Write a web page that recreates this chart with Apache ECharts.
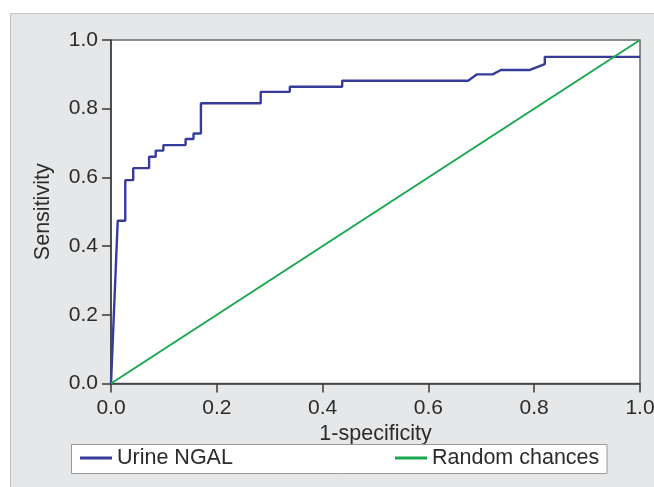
<!DOCTYPE html>
<html>
<head>
<meta charset="utf-8">
<script src="https://cdn.jsdelivr.net/npm/echarts@6/dist/echarts.min.js"></script>
<style>
html,body{margin:0;padding:0;background:#ffffff;}
#c{width:654px;height:487px;}
</style>
</head>
<body>
<div id="c"></div>
<script>
// ROC curve data
var ngalFpr = [0, 0.0127, 0.027, 0.027, 0.042, 0.042, 0.072, 0.072, 0.0845, 0.0845, 0.099, 0.099, 0.141, 0.141, 0.156, 0.156, 0.170, 0.170, 0.283, 0.283, 0.338, 0.338, 0.437, 0.437, 0.675, 0.692, 0.7215, 0.737, 0.792, 0.820, 0.820, 1.0];
var ngalTpr = [0, 0.474, 0.474, 0.592, 0.592, 0.627, 0.627, 0.660, 0.660, 0.678, 0.678, 0.694, 0.694, 0.712, 0.712, 0.728, 0.728, 0.816, 0.816, 0.849, 0.849, 0.864, 0.864, 0.8815, 0.8815, 0.900, 0.900, 0.9127, 0.9127, 0.930, 0.951, 0.951];
var randomFpr = [0, 1];
var randomTpr = [0, 1];
var seriesNames = ['Urine NGAL', 'Random chances'];
var xTitle = '1-specificity';
var yTitle = 'Sensitivity';

function pairs(xs, ys) { return xs.map(function (x, i) { return [x, ys[i]]; }); }

var FONT = '"Liberation Sans", Arial, Helvetica, sans-serif';
var FS = 21;
var TXT = '#2b2b2b';
var chart = echarts.init(document.getElementById('c'), null, {renderer: 'canvas'});
chart.setOption({
  animation: false,
  backgroundColor: '#ffffff',
  textStyle: {fontFamily: FONT},
  graphic: [
    {type: 'rect', z: -10, shape: {x: 10.5, y: 13.5, width: 700, height: 520},
     style: {fill: '#e6e7e9', stroke: '#c2c3c5', lineWidth: 1}},
    {type: 'rect', z: 1, shape: {x: 71.5, y: 444.5, width: 535.5, height: 29},
     style: {fill: '#ffffff', stroke: '#9a9a9a', lineWidth: 1}}
  ],
  grid: {left: 111, right: 14, top: 40, bottom: 103.5, show: true, containLabel: false,
         outerBoundsMode: 'none',
         backgroundColor: '#ffffff', borderColor: '#6a6a6a', borderWidth: 1.5},
  legend: [
    {data: [seriesNames[0]], left: 80, top: 447, padding: 0, itemWidth: 32, itemHeight: 3,
     icon: 'rect', textStyle: {fontSize: 21.5, color: TXT, fontFamily: FONT}},
    {data: [seriesNames[1]], left: 395, top: 447, padding: 0, itemWidth: 32, itemHeight: 3,
     icon: 'rect', textStyle: {fontSize: 21.5, color: TXT, fontFamily: FONT}}
  ],
  xAxis: {
    type: 'value', min: 0, max: 1, interval: 0.2,
    name: xTitle, nameLocation: 'middle', nameGap: 37,
    nameTextStyle: {fontSize: 21.5, color: TXT, fontFamily: FONT},
    axisLine: {lineStyle: {color: '#3a3a3a', width: 1.5}},
    axisTick: {show: true, length: 9, lineStyle: {color: '#3a3a3a', width: 1.5}},
    axisLabel: {fontSize: FS, color: TXT, margin: 14, fontFamily: FONT,
                formatter: function (v) { return v.toFixed(1); }},
    splitLine: {show: false}
  },
  yAxis: {
    type: 'value', min: 0, max: 1, interval: 0.2,
    name: yTitle, nameLocation: 'middle', nameGap: 57,
    nameTextStyle: {fontSize: 21.5, color: TXT, fontFamily: FONT},
    axisLine: {show: true, lineStyle: {color: '#3a3a3a', width: 1.5}},
    axisTick: {show: true, length: 9, lineStyle: {color: '#3a3a3a', width: 1.5}},
    axisLabel: {fontSize: FS, color: TXT, margin: 13, fontFamily: FONT,
                formatter: function (v) { return v.toFixed(1); }},
    splitLine: {show: false}
  },
  series: [
    {name: seriesNames[0], type: 'line', data: pairs(ngalFpr, ngalTpr), showSymbol: false,
     symbol: 'none', color: '#373c9a', lineStyle: {color: '#373c9a', width: 2.4}, z: 3},
    {name: seriesNames[1], type: 'line', data: pairs(randomFpr, randomTpr), showSymbol: false,
     symbol: 'none', color: '#19a84e', lineStyle: {color: '#19a84e', width: 2}, z: 4}
  ]
});
</script>
</body>
</html>
